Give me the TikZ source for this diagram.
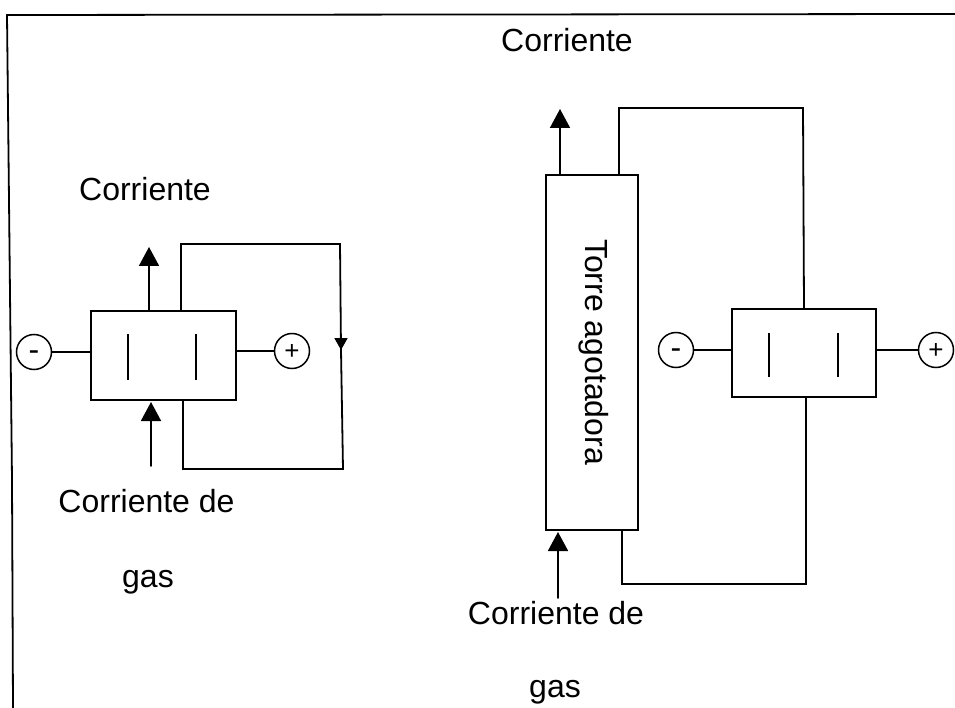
\documentclass[tikz,border=0pt]{standalone}
\usepackage{fontspec}
\setmainfont{Liberation Sans}
\usetikzlibrary{arrows.meta}
\begin{document}
\begin{tikzpicture}[x=1pt,y=-1pt,
  wire/.style={line width=1.8pt,line cap=round,line join=miter},
  box/.style={draw,line width=2pt,minimum width=#1,inner sep=0pt},
  term/.style={draw,circle,line width=1.5pt,minimum size=35pt,inner sep=0pt,text height=17pt,text depth=0pt},
  plate/.style={line width=2.8pt},
  lab/.style={font=\fontsize{32}{34}\selectfont,inner sep=0pt,anchor=base},
  flow/.style={wire,-{Triangle[length=19pt,width=20pt]}},
]
\useasboundingbox (0,0) rectangle (955,708);
% frame
\coordinate (fa) at (955,14);
\coordinate (fb) at (7,15);
\coordinate (fc) at (9,200);
\coordinate (fd) at (12,480);
\coordinate (fe) at (13,708);
\draw[line width=1.8pt] (fa) -- (fb) -- (fc) -- (fd) -- (fe);
% left cell
\node[box=145pt,minimum height=89pt] (cellL) at (163.5,355.5) {};
\node[term,font=\fontsize{32}{32}\selectfont] (mL) at (34,352) {-};
\node[term,font=\fontsize{26}{26}\selectfont] (pL) at (292,351) {+};
\draw[wire] (mL) -- (mL-|cellL.west);
\draw[wire] (pL) -- (pL-|cellL.east);
\coordinate (pl1a) at (128,334); \coordinate (pl1b) at (128,380);
\coordinate (pl2a) at (196,334); \coordinate (pl2b) at (196,380);
\draw[plate] (pl1a) -- (pl1b);
\draw[plate] (pl2a) -- (pl2b);
\coordinate (outL0) at (149,311); \coordinate (outL) at (149,247);
\draw[flow] (outL0) -- (outL);
\coordinate (inL0) at (151,466); \coordinate (inL) at (151,402);
\draw[flow] (inL0) -- (inL);
\coordinate (lt0) at (181,311); \coordinate (lt1) at (181,244); \coordinate (lt2) at (340,244);
\coordinate (lm) at (341,350);
\coordinate (lb0) at (183,400); \coordinate (lb1) at (183,469); \coordinate (lb2) at (343,469);
\draw[wire] (lt0) -- (lt1) -- (lt2) -- (lm);
\draw[wire] (lm) -- (lb2) -- (lb1) -- (lb0);
\coordinate (lma) at (341,338);
\draw[wire,-{Triangle[length=12pt,width=13pt]}] (lma) -- (lm);
% right tower
\node[box=92pt,minimum height=355pt] (tower) at (591.5,352.5) {};
\node[rotate=-90,lab] (tl) at (585,352) {Torre agotadora};
\coordinate (outR0) at (560,175); \coordinate (outR) at (560,109);
\draw[flow] (outR0) -- (outR);
\coordinate (inR0) at (558,598); \coordinate (inR) at (558,532);
\draw[flow] (inR0) -- (inR);
% right cell
\node[box=144pt,minimum height=88pt] (cellR) at (804,353) {};
\node[term,font=\fontsize{32}{32}\selectfont] (mR) at (676,350) {-};
\node[term,font=\fontsize{26}{26}\selectfont] (pR) at (936,350) {+};
\draw[wire] (mR) -- (mR-|cellR.west);
\draw[wire] (pR) -- (pR-|cellR.east);
\coordinate (pr1a) at (769,333); \coordinate (pr1b) at (769,377);
\coordinate (pr2a) at (838,333); \coordinate (pr2b) at (838,377);
\draw[plate] (pr1a) -- (pr1b);
\draw[plate] (pr2a) -- (pr2b);
\coordinate (rt0) at (619,175); \coordinate (rt1) at (619,108); \coordinate (rt2) at (803,108); \coordinate (rt3) at (804,309);
\draw[wire] (rt0) -- (rt1) -- (rt2) -- (rt3);
\coordinate (rb0) at (806,397); \coordinate (rb1) at (806,584); \coordinate (rb2) at (622,584); \coordinate (rb3) at (622,530);
\draw[wire] (rb0) -- (rb1) -- (rb2) -- (rb3);
% labels
\node[lab] (t1) at (567,52) {Corriente};
\node[lab] (t2) at (145,201) {Corriente};
\node[lab] (t3) at (146.5,512) {Corriente de};
\node[lab] (t4) at (148,587) {gas};
\node[lab] (t5) at (556,624) {Corriente de};
\node[lab] (t6) at (555,697) {gas};
\end{tikzpicture}
\end{document}
